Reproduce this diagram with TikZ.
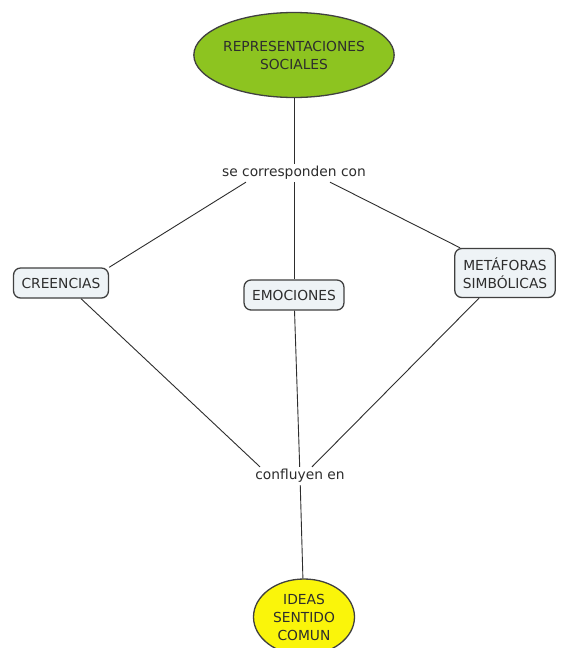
\documentclass[tikz,border=0pt]{standalone}
\usepackage{fontspec}
\setmainfont{DejaVu Sans}
\usetikzlibrary{shapes.geometric}
\definecolor{socialgreen}{RGB}{141,196,32}
\definecolor{ideayellow}{RGB}{250,245,10}
\definecolor{boxfill}{RGB}{238,243,246}
\definecolor{edgegray}{RGB}{64,64,64}
\definecolor{inkgray}{RGB}{45,45,45}

\begin{document}
\begin{tikzpicture}[x=1pt,y=-1pt,line width=0.9pt,draw=inkgray,
  concept/.style={draw=edgegray,line width=1.3pt,rounded corners=7pt,fill=boxfill,
    align=center,font=\fontsize{13.8}{18}\selectfont,text=inkgray,
    inner xsep=8pt,inner ysep=9pt,minimum height=30pt},
  oval/.style={ellipse,draw=edgegray,line width=1.3pt,align=center,inner sep=0pt,
    font=\fontsize{13.8}{18}\selectfont,text=inkgray},
  phrase/.style={font=\fontsize{13.8}{16}\selectfont,text=inkgray,inner sep=2pt}]
\useasboundingbox (0,0) rectangle (564,648);
\fill[white] (0,0) rectangle (564,648);

% nodes
\node[oval,fill=socialgreen,minimum width=175pt,minimum height=85pt] (rs) at (294,55) {REPRESENTACIONES\\SOCIALES};
\node[phrase] (sc) at (294,173) {se corresponden con};
\node[concept] (cre) at (61,283) {CREENCIAS};
\node[concept] (emo) at (294,295) {EMOCIONES};
\node[concept] (met) at (505,273) {METÁFORAS\\SIMBÓLICAS};
\node[phrase] (cf) at (300,476) {confluyen en};
\node[oval,fill=ideayellow,minimum width=101pt,minimum height=76pt] (ide) at (304,617) {IDEAS\\SENTIDO\\COMUN};

% links
\draw (rs) -- (sc);
\draw ([xshift=-48pt]sc.south) -- (cre.north east);
\draw (sc) -- (emo);
\draw ([xshift=36pt]sc.south) -- ([xshift=6pt]met.north west);
\draw ([xshift=20pt]cre.south) -- ([xshift=-40pt]cf.north);
\draw (emo) -- (cf);
\draw ([xshift=-26pt]met.south) -- ([xshift=12pt]cf.north);
\draw (cf) -- (ide);
\end{tikzpicture}
\end{document}
